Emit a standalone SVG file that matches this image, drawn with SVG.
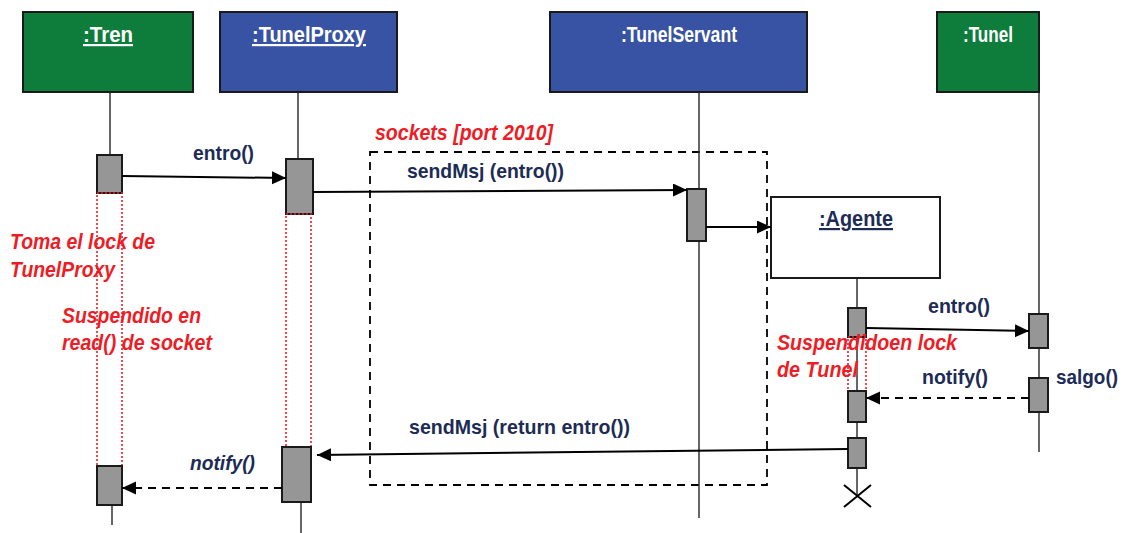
<svg xmlns="http://www.w3.org/2000/svg" width="1124" height="533" viewBox="0 0 1124 533">
  <defs>
    <marker id="head" markerUnits="userSpaceOnUse" markerWidth="16" markerHeight="14" refX="14" refY="6.5" orient="auto">
      <path d="M0,0 L14,6.5 L0,13 z" fill="#000"/>
    </marker>
    <style>
      .obj { stroke: #1a1a1a; stroke-width: 2; }
      .green { fill: #0e7d3c; }
      .blue { fill: #3853a4; }
      .title { font-family: "Liberation Sans", Arial, sans-serif; font-weight: bold; font-size: 22px; fill: #fff; text-anchor: middle; }
      .life { stroke: #333; stroke-width: 1.5; fill: none; }
      .act { fill: #969696; stroke: #1a1a1a; stroke-width: 2; }
      .wait { fill: none; stroke: #ee1c25; stroke-width: 1.6; stroke-dasharray: 2 2; }
      .msg { stroke: #000; stroke-width: 2; fill: none; marker-end: url(#head); }
      .ret { stroke: #000; stroke-width: 2; fill: none; stroke-dasharray: 8 6; marker-end: url(#head); }
      .lbl { font-family: "Liberation Sans", Arial, sans-serif; font-weight: bold; font-size: 21px; fill: #1c2c55; }
      .note { font-family: "Liberation Sans", Arial, sans-serif; font-weight: bold; font-style: italic; font-size: 22px; fill: #ee1c25; }
    </style>
  </defs>

  <!-- remote call boundary -->
  <g id="socket-frame">
    <rect x="370" y="152" width="397" height="333" fill="none" stroke="#000" stroke-width="1.8" stroke-dasharray="8 6"/>
    <text class="note" x="375" y="140" textLength="178" lengthAdjust="spacingAndGlyphs">sockets [port 2010]</text>
  </g>

  <!-- lifelines -->
  <g id="lifelines">
    <line class="life" x1="110" y1="92" x2="110" y2="155"/>
    <line class="life" x1="112" y1="505" x2="112" y2="525"/>
    <line class="life" x1="298" y1="92" x2="298" y2="159"/>
    <line class="life" x1="301" y1="502" x2="301" y2="533"/>
    <line class="life" x1="699" y1="92" x2="699" y2="518"/>
    <line class="life" x1="857" y1="278" x2="857" y2="497"/>
    <line class="life" x1="1039" y1="92" x2="1039" y2="452"/>
  </g>

  <g id="tren">
    <rect class="obj green" x="23" y="12" width="170" height="80"/>
    <text class="title" x="108" y="42" textLength="50" lengthAdjust="spacingAndGlyphs" text-decoration="underline">:Tren</text>
    <rect class="act" x="97" y="155" width="25" height="38"/>
    <rect class="wait" x="97" y="193" width="25" height="273"/>
    <rect class="act" x="97" y="466" width="25" height="39"/>
  </g>

  <g id="tunelproxy">
    <rect class="obj blue" x="220" y="12" width="177" height="80"/>
    <text class="title" x="309" y="42" textLength="114" lengthAdjust="spacingAndGlyphs" text-decoration="underline">:TunelProxy</text>
    <rect class="act" x="286" y="159" width="27" height="55"/>
    <rect class="wait" x="286" y="214" width="25" height="233"/>
    <rect class="act" x="282" y="447" width="29" height="55"/>
  </g>

  <g id="tunelservant">
    <rect class="obj blue" x="550" y="12" width="257" height="80"/>
    <text class="title" x="679" y="42" textLength="116" lengthAdjust="spacingAndGlyphs">:TunelServant</text>
    <rect class="act" x="687" y="189" width="19" height="52"/>
  </g>

  <g id="agente">
    <rect x="771" y="197" width="169" height="81" fill="#fff" stroke="#1a1a1a" stroke-width="2"/>
    <text class="title" x="856" y="226" style="fill:#1c2c55" textLength="74" lengthAdjust="spacingAndGlyphs" text-decoration="underline">:Agente</text>
    <rect class="act" x="848" y="308" width="18" height="29"/>
    <rect class="wait" x="848" y="337" width="18" height="54"/>
    <rect class="act" x="848" y="391" width="18" height="31"/>
    <rect class="act" x="848" y="438" width="18" height="30"/>
    <path d="M844,485 L871,507 M871,485 L844,507" stroke="#000" stroke-width="2"/>
  </g>

  <g id="tunel">
    <rect class="obj green" x="937" y="12" width="102" height="80"/>
    <text class="title" x="988" y="42" textLength="50" lengthAdjust="spacingAndGlyphs">:Tunel</text>
    <rect class="act" x="1029" y="314" width="19" height="34"/>
    <rect class="act" x="1029" y="378" width="19" height="34"/>
  </g>

  <!-- messages -->
  <g id="connectors">
    <line class="msg" x1="122" y1="176" x2="286" y2="178"/>
    <line class="msg" x1="313" y1="192" x2="687" y2="190"/>
    <line class="msg" x1="706" y1="227" x2="771" y2="227"/>
    <line class="msg" x1="866" y1="328" x2="1029" y2="331"/>
    <line class="ret" x1="1029" y1="398" x2="866" y2="398"/>
    <line class="msg" x1="848" y1="449" x2="317" y2="455"/>
    <line class="ret" x1="282" y1="488" x2="122" y2="488"/>
  </g>

  <!-- message labels -->
  <g id="labels">
    <text class="lbl" x="193" y="160" textLength="61" lengthAdjust="spacingAndGlyphs">entro()</text>
    <text class="lbl" x="407" y="178" textLength="157" lengthAdjust="spacingAndGlyphs">sendMsj (entro())</text>
    <text class="lbl" x="928" y="313" textLength="62" lengthAdjust="spacingAndGlyphs">entro()</text>
    <text class="lbl" x="922" y="384" textLength="66" lengthAdjust="spacingAndGlyphs">notify()</text>
    <text class="lbl" x="1056" y="384" textLength="62" lengthAdjust="spacingAndGlyphs">salgo()</text>
    <text class="lbl" x="409" y="434" textLength="221" lengthAdjust="spacingAndGlyphs">sendMsj (return entro())</text>
    <text class="lbl" x="190" y="470" font-style="italic" textLength="65" lengthAdjust="spacingAndGlyphs">notify()</text>
  </g>

  <!-- state notes -->
  <g id="notes">
    <text class="note" x="10" y="249" textLength="145" lengthAdjust="spacingAndGlyphs">Toma el lock de</text>
    <text class="note" x="10" y="277" textLength="105" lengthAdjust="spacingAndGlyphs">TunelProxy</text>
    <text class="note" x="62" y="323" textLength="139" lengthAdjust="spacingAndGlyphs">Suspendido en</text>
    <text class="note" x="62" y="350" textLength="150" lengthAdjust="spacingAndGlyphs">read() de socket</text>
    <text class="note" x="777" y="350" textLength="180" lengthAdjust="spacingAndGlyphs">Suspendidoen lock</text>
    <text class="note" x="777" y="377" textLength="81" lengthAdjust="spacingAndGlyphs">de Tunel</text>
  </g>
</svg>
